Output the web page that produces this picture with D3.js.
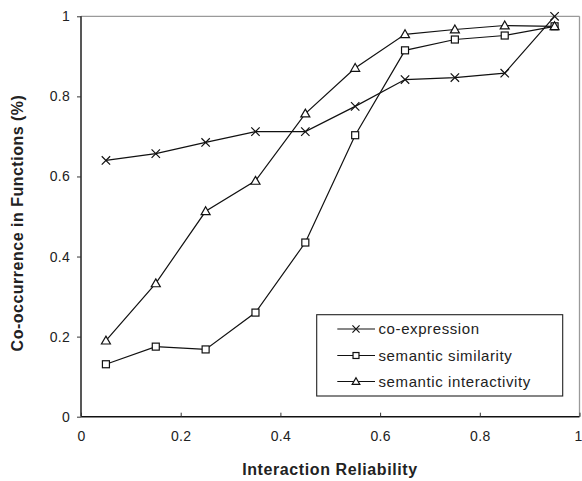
<!DOCTYPE html>
<html><head><meta charset="utf-8">
<script src="https://cdn.jsdelivr.net/npm/d3@7"></script>
<style>body{margin:0;background:#fff}svg{display:block}text{font-family:"Liberation Sans",Arial,sans-serif;fill:#222}</style>
</head><body>
<svg id="c" width="582" height="481"></svg>
<script>
const xValues = [0.05,0.15,0.25,0.35,0.45,0.55,0.65,0.75,0.85,0.95];
const coExpression = [0.640,0.657,0.685,0.712,0.712,0.775,0.842,0.847,0.858,1.000];
const semanticSimilarity = [0.131,0.175,0.168,0.260,0.435,0.703,0.915,0.942,0.952,0.975];
const semanticInteractivity = [0.190,0.333,0.513,0.589,0.757,0.871,0.955,0.967,0.977,0.975];
const seriesNames = ["co-expression","semantic similarity","semantic interactivity"];
const markerTypes = ["x","square","triangle"];
const xTicks = [0,0.2,0.4,0.6,0.8,1];
const yTicks = [0,0.2,0.4,0.6,0.8,1];
const xTitle = "Interaction Reliability";
const yTitle = "Co-occurrence in Functions (%)";

const series = [coExpression, semanticSimilarity, semanticInteractivity];
const svg = d3.select("#c");
const L=81, R=579.5, T=16.3, B=416.7;
const x = d3.scaleLinear().domain([0,1]).range([L,R]);
const y = d3.scaleLinear().domain([0,1]).range([B,T]);

// top/right frame (grey)
svg.append("line").attr("x1",L).attr("x2",R).attr("y1",T).attr("y2",T).attr("stroke","#9a9a9a").attr("stroke-width",1.3);
svg.append("line").attr("x1",R).attr("x2",R).attr("y1",T).attr("y2",B).attr("stroke","#9a9a9a").attr("stroke-width",1.3);

// axes
const yAxis = d3.axisLeft(y).tickValues(yTicks).tickFormat(d3.format("~g")).tickSize(4).tickPadding(7);
const gy = svg.append("g").attr("transform",`translate(${L},0)`).call(yAxis);
const xAxis = d3.axisBottom(x).tickValues(xTicks).tickFormat(d3.format("~g")).tickSizeInner(-4).tickSizeOuter(0).tickPadding(14);
const gx = svg.append("g").attr("transform",`translate(0,${B})`).call(xAxis);
[gx,gy].forEach(g=>{
  g.select(".domain").attr("stroke","#111").attr("stroke-width",1.4);
  g.selectAll(".tick line").attr("stroke","#333").attr("stroke-width",1);
  g.selectAll(".tick text").attr("font-size","14px").attr("fill","#222").style("font-family","Liberation Sans, Arial, sans-serif").attr("letter-spacing","0.3px");
});
gy.select(".domain").attr("d",`M0,${T}V${B}`);
gx.select(".domain").attr("d",`M${L},0H${R}`);
gx.selectAll(".tick text").filter(d=>d===1).attr("dx","-1.5px");

// titles
svg.append("text").attr("x",330).attr("y",475).attr("text-anchor","middle")
  .attr("font-size","16px").attr("font-weight","bold").attr("letter-spacing","0.6px").text(xTitle);
svg.append("text").attr("transform",`translate(23,223) rotate(-90)`).attr("text-anchor","middle")
  .attr("font-size","16px").attr("font-weight","bold").attr("letter-spacing","0.5px").text(yTitle);

function marker(g, type, cx, cy, k){
  k = k || 1;
  if(type==="x"){
    const s=4.2*k;
    g.append("path").attr("d",`M${cx-s},${cy-s}L${cx+s},${cy+s}M${cx-s},${cy+s}L${cx+s},${cy-s}`)
      .attr("stroke","#111").attr("stroke-width",1.2).attr("fill","none");
  } else if(type==="square"){
    const s=3.5*k;
    g.append("rect").attr("x",cx-s).attr("y",cy-s).attr("width",2*s).attr("height",2*s)
      .attr("stroke","#111").attr("stroke-width",1.2).attr("fill","#fff");
  } else {
    const s=4.5*k;
    g.append("path").attr("d",`M${cx},${cy-s}L${cx+s},${cy+s*0.75}L${cx-s},${cy+s*0.75}Z`)
      .attr("stroke","#111").attr("stroke-width",1.2).attr("fill","#fff");
  }
}

const line = d3.line().x((d,i)=>x(xValues[i])).y(d=>y(d));
series.forEach((vals,si)=>{
  svg.append("path").attr("d",line(vals)).attr("fill","none").attr("stroke","#111").attr("stroke-width",1.2);
});
series.forEach((vals,si)=>{
  const g = svg.append("g");
  vals.forEach((v,i)=>marker(g, markerTypes[si], x(xValues[i]), y(v)));
});

// legend
const lg = svg.append("g");
lg.append("rect").attr("x",316.7).attr("y",314.7).attr("width",246).attr("height",81.3)
  .attr("fill","#fff").attr("stroke","#222").attr("stroke-width",1.1);
const rowY = [329, 355.5, 381.5];
seriesNames.forEach((n,i)=>{
  lg.append("line").attr("x1",337.3).attr("x2",375).attr("y1",rowY[i]).attr("y2",rowY[i]).attr("stroke","#111").attr("stroke-width",1.2);
  marker(lg, markerTypes[i], 356, rowY[i], 0.85);
  lg.append("text").attr("x",378.5).attr("y",rowY[i]).attr("dy","0.35em").attr("font-size","15px").attr("letter-spacing","0.6px").text(n);
});
</script>
</body></html>
